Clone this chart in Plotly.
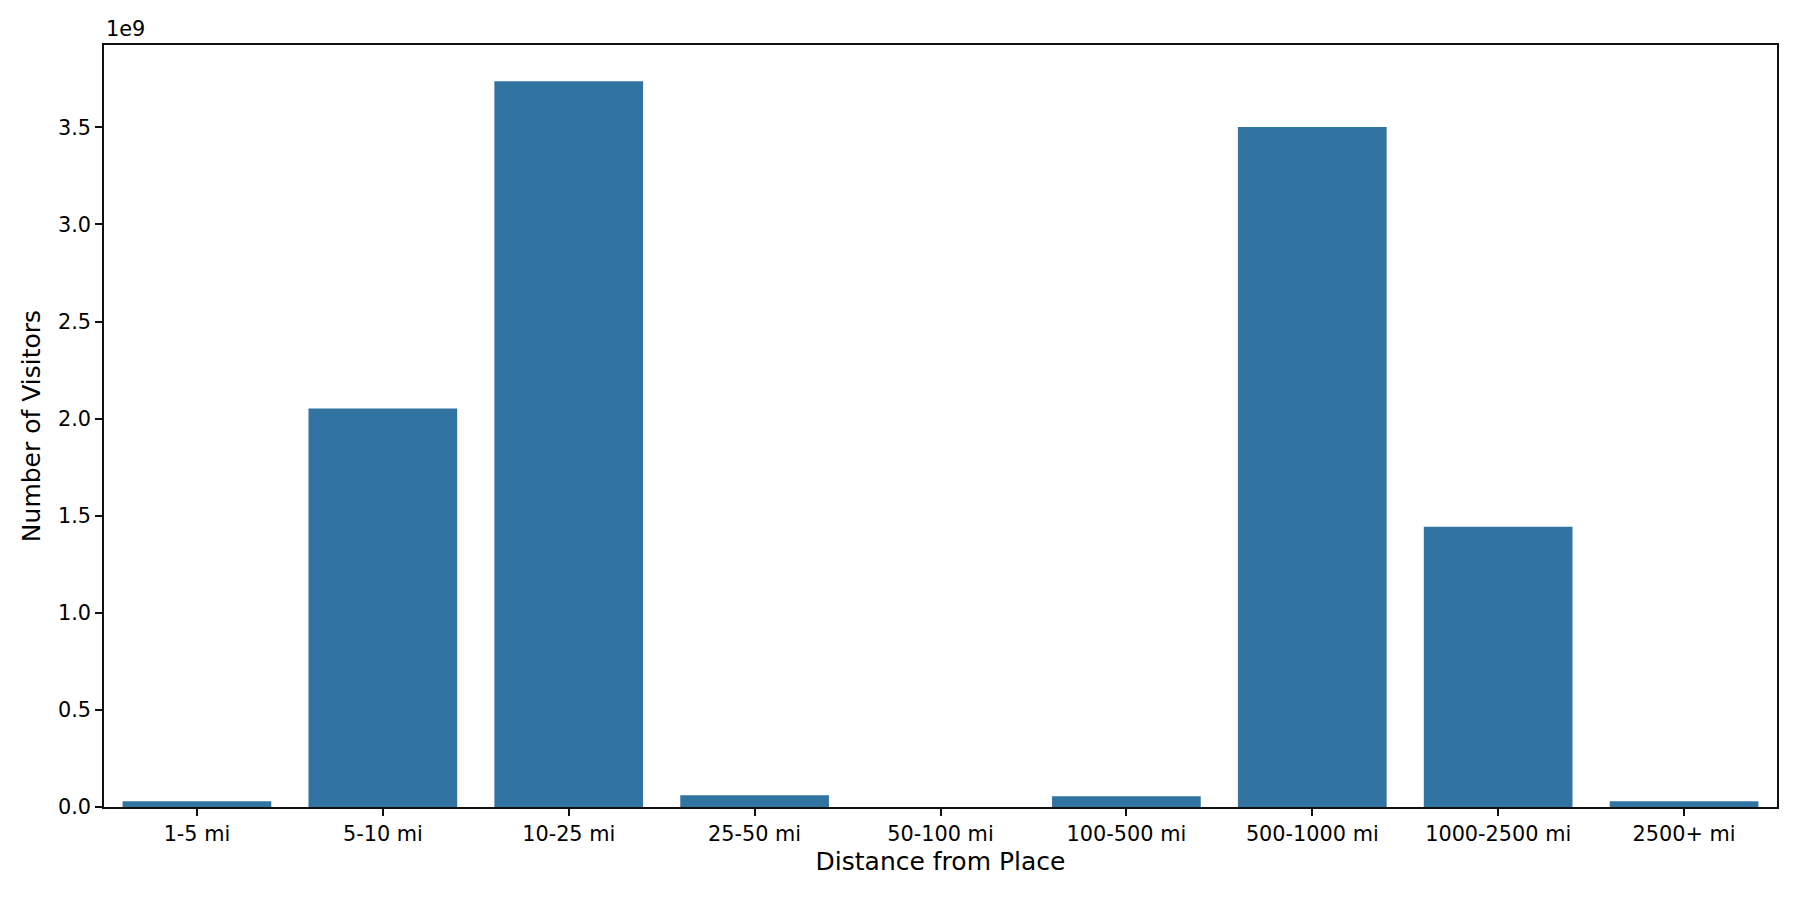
import plotly.graph_objects as go

# distance bands and visitor counts
distance_bands = ['1-5 mi', '5-10 mi', '10-25 mi', '25-50 mi', '50-100 mi',
                  '100-500 mi', '500-1000 mi', '1000-2500 mi', '2500+ mi']
visitors = [0.029e9, 2.052e9, 3.737e9, 0.060e9, 0.0,
            0.055e9, 3.502e9, 1.443e9, 0.029e9]

# y ticks as matplotlib draws them (with a 1e9 offset label)
y_tick_vals = [0, 0.5e9, 1.0e9, 1.5e9, 2.0e9, 2.5e9, 3.0e9, 3.5e9]
y_tick_text = ['0.0', '0.5', '1.0', '1.5', '2.0', '2.5', '3.0', '3.5']
offset_label = '1e9'

font = 'DejaVu Sans'

fig = go.Figure()
fig.add_trace(go.Bar(x=list(range(len(distance_bands))), y=visitors,
                     marker=dict(color='#3274a1', line=dict(width=0)),
                     width=0.8))

# the page body has an 8px margin, so shift the margins to compensate
fig.update_layout(
    width=1800, height=900,
    margin=dict(l=96, r=31, t=37, b=101),
    plot_bgcolor='white', paper_bgcolor='white',
    font=dict(family=font, color='black'),
    showlegend=False,
)
fig.update_xaxes(
    range=[-0.5, len(distance_bands) - 0.5],
    tickvals=list(range(len(distance_bands))), ticktext=distance_bands,
    showgrid=False, zeroline=False,
    showline=True, mirror=True, linecolor='#111', linewidth=1.7,
    ticks='outside', ticklen=7, tickwidth=1.7, tickcolor='#111',
    tickfont=dict(size=20.8, family=font, color='black'),
    title=dict(text='Distance from Place', font=dict(size=25, family=font, color='black'), standoff=8),
)
fig.update_yaxes(
    range=[0, max(visitors) * 1.05],
    tickvals=y_tick_vals, ticktext=y_tick_text,
    showgrid=False, zeroline=False,
    showline=True, mirror=True, linecolor='#111', linewidth=1.7,
    ticks='outside', ticklen=7, tickwidth=1.7, tickcolor='#111',
    tickfont=dict(size=20.8, family=font, color='black'),
    title=dict(text='Number of Visitors', font=dict(size=25, family=font, color='black'), standoff=10),
)
fig.add_annotation(text=offset_label, xref='paper', yref='paper', x=0, y=1,
                   xanchor='left', yanchor='bottom', showarrow=False, yshift=2,
                   font=dict(size=20.8, family=font, color='black'))

fig.write_html("out.html")
